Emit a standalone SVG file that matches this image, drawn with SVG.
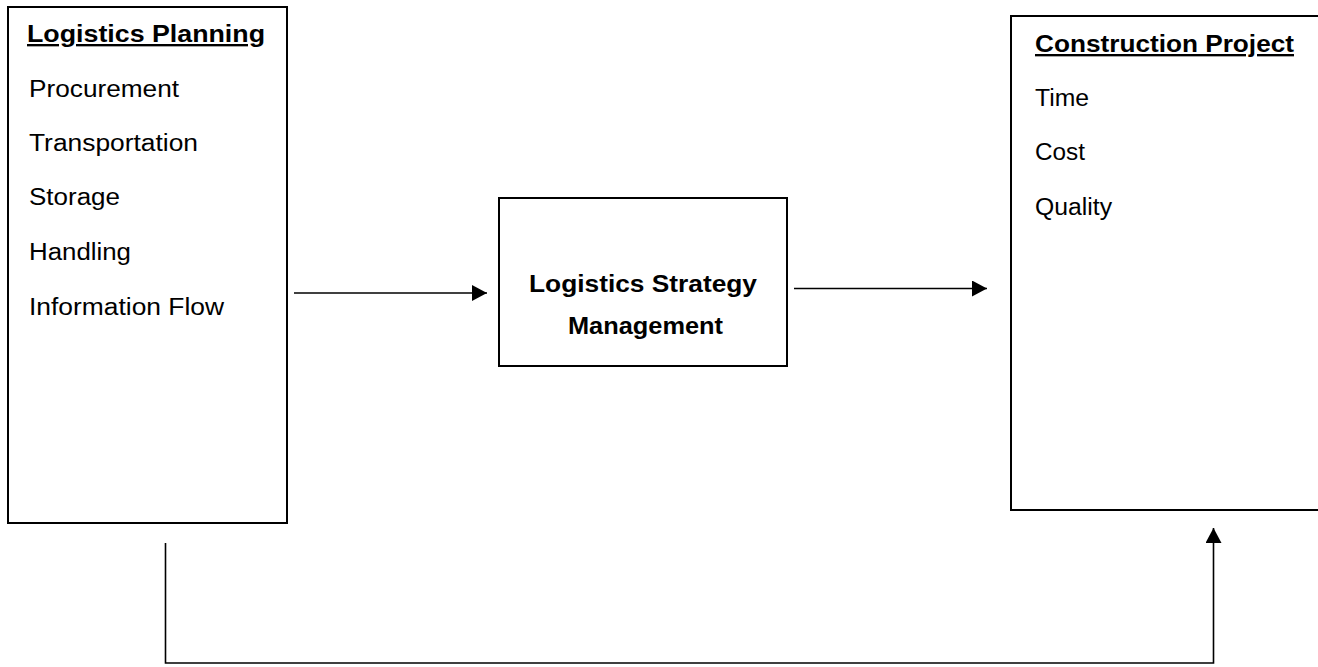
<svg xmlns="http://www.w3.org/2000/svg" width="1318" height="667" viewBox="0 0 1318 667">
<style>
.box{fill:#fff;stroke:#000;stroke-width:2}
.t{font-family:"Liberation Sans",Arial,sans-serif;font-size:23.5px;fill:#000}
.h{font-family:"Liberation Sans",Arial,sans-serif;font-size:23.5px;font-weight:bold;fill:#000;text-decoration:underline}
.b{font-family:"Liberation Sans",Arial,sans-serif;font-size:23.5px;font-weight:bold;fill:#000}
.ln{fill:none;stroke:#000;stroke-width:1.6}
</style>
<defs>
<marker id="arr" viewBox="0 0 15 16" refX="15" refY="8" markerWidth="15" markerHeight="16" markerUnits="userSpaceOnUse" orient="auto">
<path d="M0,0 L15,8 L0,16 Z" fill="#000"/>
</marker>
</defs>
<g id="logistics-planning">
<rect class="box" x="8" y="7" width="279" height="516"/>
<text class="h" x="27" y="42" textLength="238" lengthAdjust="spacingAndGlyphs">Logistics Planning</text>
<text class="t" x="29" y="97" textLength="150" lengthAdjust="spacingAndGlyphs">Procurement</text>
<text class="t" x="29" y="151" textLength="169" lengthAdjust="spacingAndGlyphs">Transportation</text>
<text class="t" x="29" y="205" textLength="91" lengthAdjust="spacingAndGlyphs">Storage</text>
<text class="t" x="29" y="260" textLength="102" lengthAdjust="spacingAndGlyphs">Handling</text>
<text class="t" x="29" y="315" textLength="195" lengthAdjust="spacingAndGlyphs">Information Flow</text>
</g>
<g id="logistics-strategy-management">
<rect class="box" x="499" y="198" width="288" height="168"/>
<text class="b" x="529" y="292" textLength="228" lengthAdjust="spacingAndGlyphs">Logistics Strategy</text>
<text class="b" x="568" y="334" textLength="155" lengthAdjust="spacingAndGlyphs">Management</text>
</g>
<g id="construction-project">
<rect class="box" x="1011" y="16" width="320" height="494"/>
<text class="h" x="1035" y="52" textLength="259" lengthAdjust="spacingAndGlyphs">Construction Project</text>
<text class="t" x="1035" y="106" textLength="54" lengthAdjust="spacingAndGlyphs">Time</text>
<text class="t" x="1035" y="160" textLength="50" lengthAdjust="spacingAndGlyphs">Cost</text>
<text class="t" x="1035" y="215" textLength="77" lengthAdjust="spacingAndGlyphs">Quality</text>
</g>
<g id="connectors">
<line class="ln" x1="294" y1="293" x2="487" y2="293" marker-end="url(#arr)"/>
<line class="ln" x1="794" y1="288.5" x2="987" y2="288.5" marker-end="url(#arr)"/>
<polyline class="ln" points="165.5,543 165.5,663 1213.5,663 1213.5,528" marker-end="url(#arr)"/>
</g>
</svg>
